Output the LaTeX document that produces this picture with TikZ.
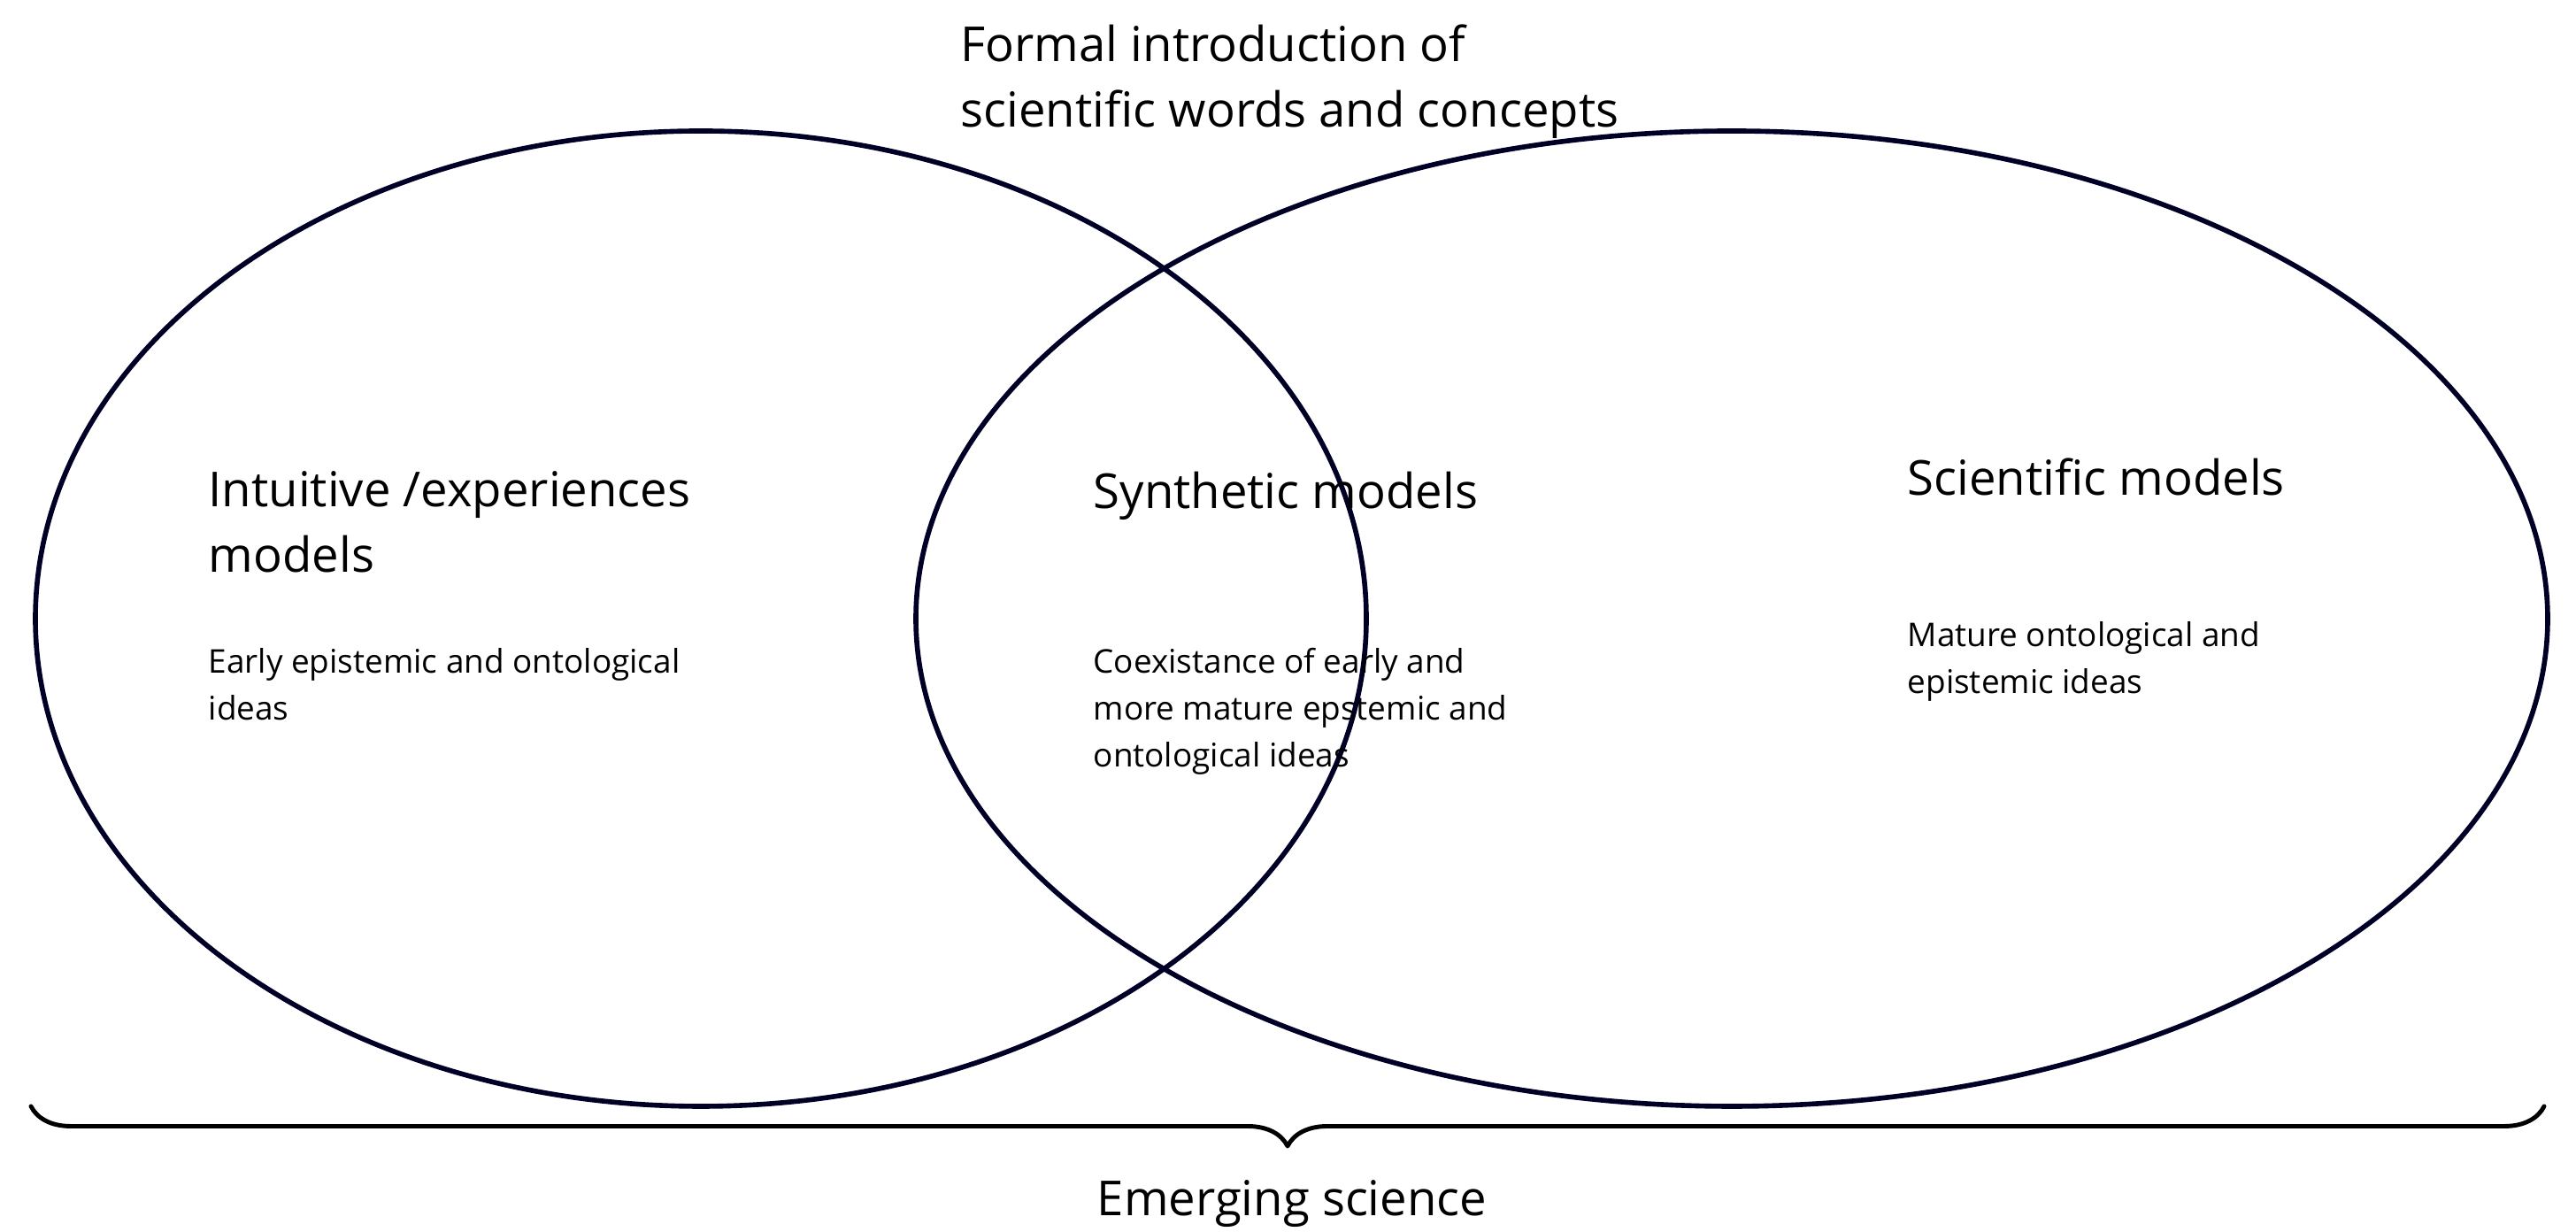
\documentclass[tikz,border=0pt]{standalone}
\usepackage{fontspec}
\setmainfont{Open Sans}
\usetikzlibrary{positioning,decorations.pathreplacing}
\begin{document}
\begin{tikzpicture}[line cap=round,line join=round,x=1.0cm,y=1.0cm]
\tikzset{ring/.style={draw=black!85!blue,line width=1.6pt},
  big/.style={font=\fontsize{15.5}{21}\selectfont,align=left,inner sep=0pt},
  small/.style={font=\fontsize{10.5}{15}\selectfont,align=left,inner sep=0pt}}
\useasboundingbox (0,0) rectangle (29.11,13.92);
% ellipses
\draw[ring] (7.92,6.93) ellipse (7.52 and 5.51);
\draw[ring] (19.57,6.93) ellipse (9.22 and 5.51);
% brace
\draw[line width=1.4pt,decorate,decoration={brace,mirror,amplitude=0.45cm}]
  (0.35,1.42) -- (28.75,1.42);
% texts
\node[big,anchor=north west] (top) at (10.85,13.65) {Formal introduction of\\scientific words and concepts};
\node[big,anchor=north west] (intu) at (2.35,8.6) {Intuitive /experiences\\models};
\node[small,anchor=north west] (intus) at (2.35,6.6) {Early epistemic and ontological\\ideas};
\node[big,anchor=north west] (syn) at (12.35,8.6) {Synthetic models};
\node[small,anchor=north west] (syns) at (12.35,6.6) {Coexistance of early and\\more mature epstemic and\\ontological ideas};
\node[big,anchor=north west] (sci) at (21.55,8.75) {Scientific models};
\node[small,anchor=north west] (scis) at (21.55,6.9) {Mature ontological and\\epistemic ideas};
\node[big] (emerg) at (14.6,0.32) {Emerging science};
\end{tikzpicture}
\end{document}
